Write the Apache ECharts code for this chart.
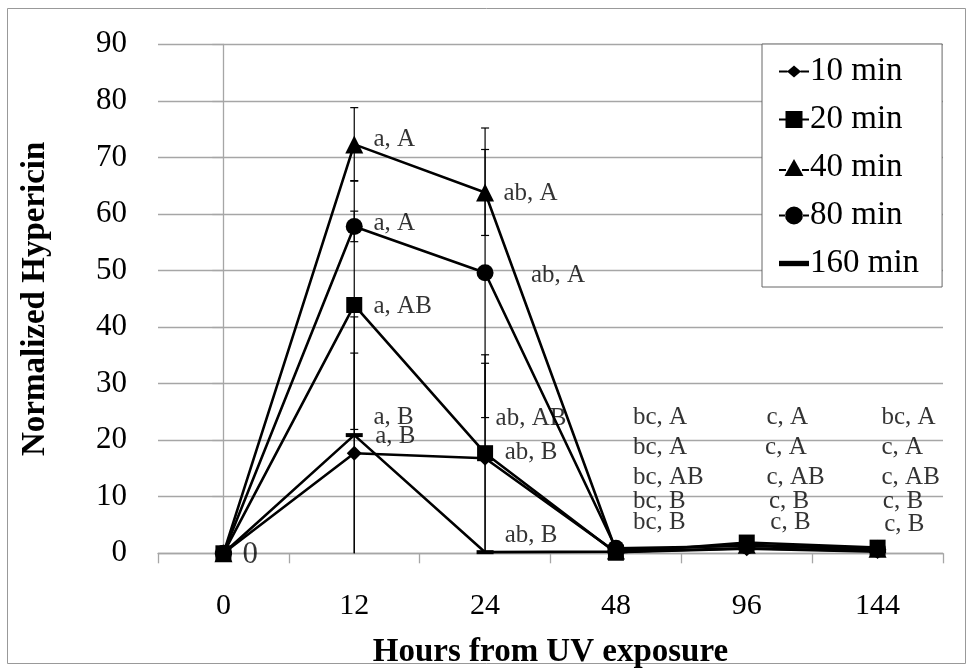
<!DOCTYPE html>
<html>
<head>
<meta charset="utf-8">
<script src="https://cdn.jsdelivr.net/npm/echarts@6/dist/echarts.min.js"></script>
<style>html,body{margin:0;padding:0;background:#fff}#c{width:974px;height:672px}</style>
</head>
<body>
<div id="c"></div>
<script>
var categories = ['0', '12', '24', '48', '96', '144'];
var seriesNames = ['10 min', '20 min', '40 min', '80 min', '160 min'];
var v10 = [0, 17.7, 16.8, 0.2, 0.8, 0.3];
var v20 = [0, 43.9, 17.7, 0.1, 1.9, 1.0];
var v40 = [0, 72.3, 63.8, 0.5, 1.5, 0.8];
var v80 = [0, 57.8, 49.6, 0.9, 1.3, 0.7];
var v160 = [0, 20.9, 0.2, 0.3, 0.9, 0.4];
var e10 = [0, 17.7, 16.8, 0, 0, 0];
var e20 = [0, 22.0, 17.4, 0, 0, 0];
var e40 = [0, 6.5, 7.6, 0, 0, 0];
var e80 = [0, 2.7, 25.6, 0, 0, 0];
var e160 = [0, 20.9, 0, 0, 0, 0];
// annotation labels: [x (category index), y value, text]
var annotations = [
  [1.147, 73.1, 'a, A'], [1.147, 58.4, 'a, A'], [1.147, 43.7, 'a, AB'],
  [1.147, 24.1, 'a, B'], [1.16, 20.6, 'a, B'],
  [2.14, 63.7, 'ab, A'], [2.35, 49.2, 'ab, A'], [2.08, 23.9, 'ab, AB'],
  [2.15, 17.9, 'ab, B'], [2.15, 3.2, 'ab, B'],
  [3.13, 24.1, 'bc, A'], [3.13, 18.8, 'bc, A'], [3.13, 13.5, 'bc, AB'], [3.13, 9.1, 'bc, B'], [3.13, 5.4, 'bc, B'],
  [4.15, 24.1, 'c, A'], [4.14, 18.8, 'c, A'], [4.15, 13.5, 'c, AB'], [4.17, 9.1, 'c, B'], [4.18, 5.4, 'c, B'],
  [5.03, 24.1, 'bc, A'], [5.03, 18.8, 'c, A'], [5.03, 13.5, 'c, AB'], [5.04, 9.1, 'c, B'], [5.05, 5.1, 'c, B'],
  [0.145, -0.3, '0']
];

var FONT = "'Liberation Serif', 'Times New Roman', serif";
var values = [v10, v20, v40, v80, v160];
var errors = [e10, e20, e40, e80, e160];
var symbols = ['diamond', 'rect', 'triangle', 'circle', 'rect'];
var sizes = [15, 16, 18, 17, [17, 4]];
var legendIcons = [
  'path://M0,8H8.5V10H0Z M21.5,8H30V10H21.5Z M15,3L22,9L15,15L8,9Z',
  'path://M0,8H7V10H0Z M23,8H30V10H23Z M6.5,0.5H23.5V17.5H6.5Z',
  'path://M0,10H7V12H0Z M23,10H30V12H23Z M15,0L24.5,17L5.5,17Z',
  'path://M0,8H6.5V10H0Z M23.5,8H30V10H23.5Z M6,9A9,9 0 1,0 24,9A9,9 0 1,0 6,9Z',
  'path://M1,0H29V5H1Z'
];

var series = [];
values.forEach(function (vals, k) {
  var errData = [];
  vals.forEach(function (v, i) { if (errors[k][i] > 0) errData.push([i, v, errors[k][i]]); });
  series.push({
    type: 'custom', name: seriesNames[k] + ' err', z: 1, silent: true,
    data: errData,
    renderItem: function (params, api) {
      var x = api.value(0), m = api.value(1), e = api.value(2);
      var top = api.coord([x, m + e]);
      var bot = api.coord([x, Math.max(0, m - e)]);
      var cw = 4;
      var st = { stroke: '#000', lineWidth: 1.2 };
      var children = [
        { type: 'line', shape: { x1: top[0], y1: top[1], x2: bot[0], y2: bot[1] }, style: st },
        { type: 'line', shape: { x1: top[0] - cw, y1: top[1], x2: top[0] + cw, y2: top[1] }, style: st }
      ];
      if (m - e > 0) children.push({ type: 'line', shape: { x1: bot[0] - cw, y1: bot[1], x2: bot[0] + cw, y2: bot[1] }, style: st });
      return { type: 'group', children: children };
    }
  });
});
values.forEach(function (vals, k) {
  series.push({
    type: 'line', name: seriesNames[k], data: vals, z: 3,
    symbol: symbols[k], symbolSize: sizes[k], showAllSymbol: true,
    lineStyle: { color: '#000', width: 2.6 },
    itemStyle: { color: '#000', borderWidth: 0 },
    emphasis: { disabled: true },
    animation: false
  });
});
var annoData = annotations.map(function (a) { return { value: [a[0], a[1]], name: a[2] }; });
annoData[annoData.length - 1].label = { fontSize: 31 };
series.push({
  type: 'scatter', xAxisIndex: 1, z: 5, silent: true, clip: false,
  symbolSize: 0,
  data: annoData,
  label: {
    show: true, position: 'right', distance: 0,
    formatter: function (p) { return p.name; },
    fontFamily: FONT, fontSize: 25, color: '#000', verticalAlign: 'middle', align: 'left'
  }
});

var chart = echarts.init(document.getElementById('c'), null, { renderer: 'canvas' });
chart.setOption({
  animation: false,
  backgroundColor: '#fff',
  grid: { left: 158, right: 31, top: 44.3, bottom: 118.7, containLabel: false, outerBoundsMode: 'none' },
  graphic: [{
    type: 'rect', shape: { x: 7.5, y: 8.5, width: 958, height: 655 },
    style: { fill: 'none', stroke: '#999', lineWidth: 1 }, z: -10
  }],
  legend: {
    orient: 'vertical', left: 762, top: 44,
    data: seriesNames.map(function (n, k) { return { name: n, icon: legendIcons[k] }; }),
    backgroundColor: '#fff', borderColor: '#666', borderWidth: 1,
    padding: [11, 23, 7, 17], itemGap: 15, itemWidth: 30, itemHeight: 18,
    textStyle: { fontFamily: FONT, fontSize: 33, color: '#000', padding: [0, 0, 0, -4] },
    selectedMode: false
  },
  xAxis: [{
    type: 'category', data: categories, boundaryGap: true,
    axisLine: { lineStyle: { color: '#a6a6a6', width: 1.3 } },
    axisTick: { show: true, length: 10, inside: false, lineStyle: { color: '#a6a6a6', width: 1.3 } },
    axisLabel: { fontFamily: FONT, fontSize: 30, color: '#000', margin: 38 },
    splitLine: { show: false },
    name: 'Hours from UV exposure', nameLocation: 'middle', nameGap: 83,
    nameTextStyle: { fontFamily: FONT, fontSize: 33, fontWeight: 'bold', color: '#000' }
  }, {
    type: 'value', min: -0.5, max: 5.5, show: false
  }],
  yAxis: {
    type: 'value', min: 0, max: 90, interval: 10,
    axisLine: { show: true, lineStyle: { color: '#a6a6a6', width: 1.3 } },
    axisTick: { show: true, length: 11, lineStyle: { color: '#a6a6a6', width: 1.3 } },
    axisLabel: { fontFamily: FONT, fontSize: 31, color: '#000', margin: 31 },
    splitLine: { show: true, lineStyle: { color: '#a6a6a6', width: 1.3 } },
    name: 'Normalized Hypericin', nameLocation: 'middle', nameGap: 106, nameRotate: 90,
    nameTextStyle: { fontFamily: FONT, fontSize: 33, fontWeight: 'bold', color: '#000' }
  },
  series: series
});
</script>
</body>
</html>
